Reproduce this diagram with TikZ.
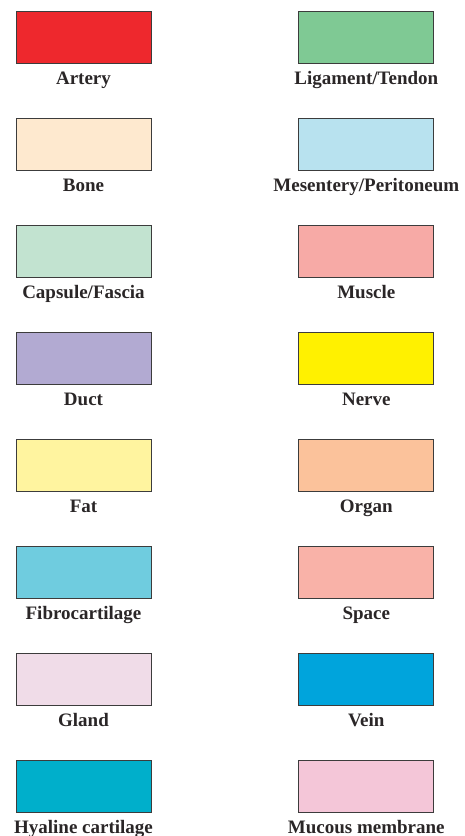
\documentclass[tikz,border=0pt]{standalone}
\usepackage{fontspec}
\setmainfont{Liberation Serif}
\definecolor{edge}{HTML}{3C3C3C}
\definecolor{txt}{HTML}{2A2627}
\definecolor{cArtery}{HTML}{EE282D}
\definecolor{cLig}{HTML}{7FC994}
\definecolor{cBone}{HTML}{FEE9CF}
\definecolor{cMes}{HTML}{B8E2EF}
\definecolor{cCaps}{HTML}{C2E3D0}
\definecolor{cMuscle}{HTML}{F7AAA6}
\definecolor{cDuct}{HTML}{B2AAD2}
\definecolor{cNerve}{HTML}{FFF100}
\definecolor{cFat}{HTML}{FFF49F}
\definecolor{cOrgan}{HTML}{FBC29B}
\definecolor{cFibro}{HTML}{6FCCDF}
\definecolor{cSpace}{HTML}{F9B2A8}
\definecolor{cGland}{HTML}{F0DCE8}
\definecolor{cVein}{HTML}{00A4DC}
\definecolor{cHyal}{HTML}{00AFCB}
\definecolor{cMuc}{HTML}{F4C6D8}
\begin{document}
\begin{tikzpicture}[x=1pt,y=-1pt,
  swatch/.style={draw=edge,line width=0.9pt,minimum width=135pt,minimum height=52pt,inner sep=0pt,anchor=north},
  lbl/.style={text=txt,font=\fontsize{19}{21}\selectfont\bfseries,anchor=base,inner sep=0pt}]
\useasboundingbox (0,0) rectangle (465,836);
\foreach \name/\col/\txt [count=\i from 0] in {
  a/cArtery/Artery, b/cBone/Bone, c/cCaps/Capsule\slash Fascia, d/cDuct/Duct,
  e/cFat/Fat, f/cFibro/Fibrocartilage, g/cGland/Gland, h/cHyal/Hyaline cartilage}{
  \node[swatch,fill=\col] (L\name) at (83.5,{10.5+107*\i}) {};
  \node[lbl] (T\name) at (83.5,{84.3+107*\i}) {\txt};
}
\foreach \name/\col/\txt [count=\i from 0] in {
  a/cLig/Ligament\slash Tendon, b/cMes/Mesentery\slash Peritoneum, c/cMuscle/Muscle, d/cNerve/Nerve,
  e/cOrgan/Organ, f/cSpace/Space, g/cVein/Vein, h/cMuc/Mucous membrane}{
  \node[swatch,fill=\col] (R\name) at (366.3,{10.5+107*\i}) {};
  \node[lbl] (U\name) at (366.3,{84.3+107*\i}) {\txt};
}
\end{tikzpicture}
\end{document}
